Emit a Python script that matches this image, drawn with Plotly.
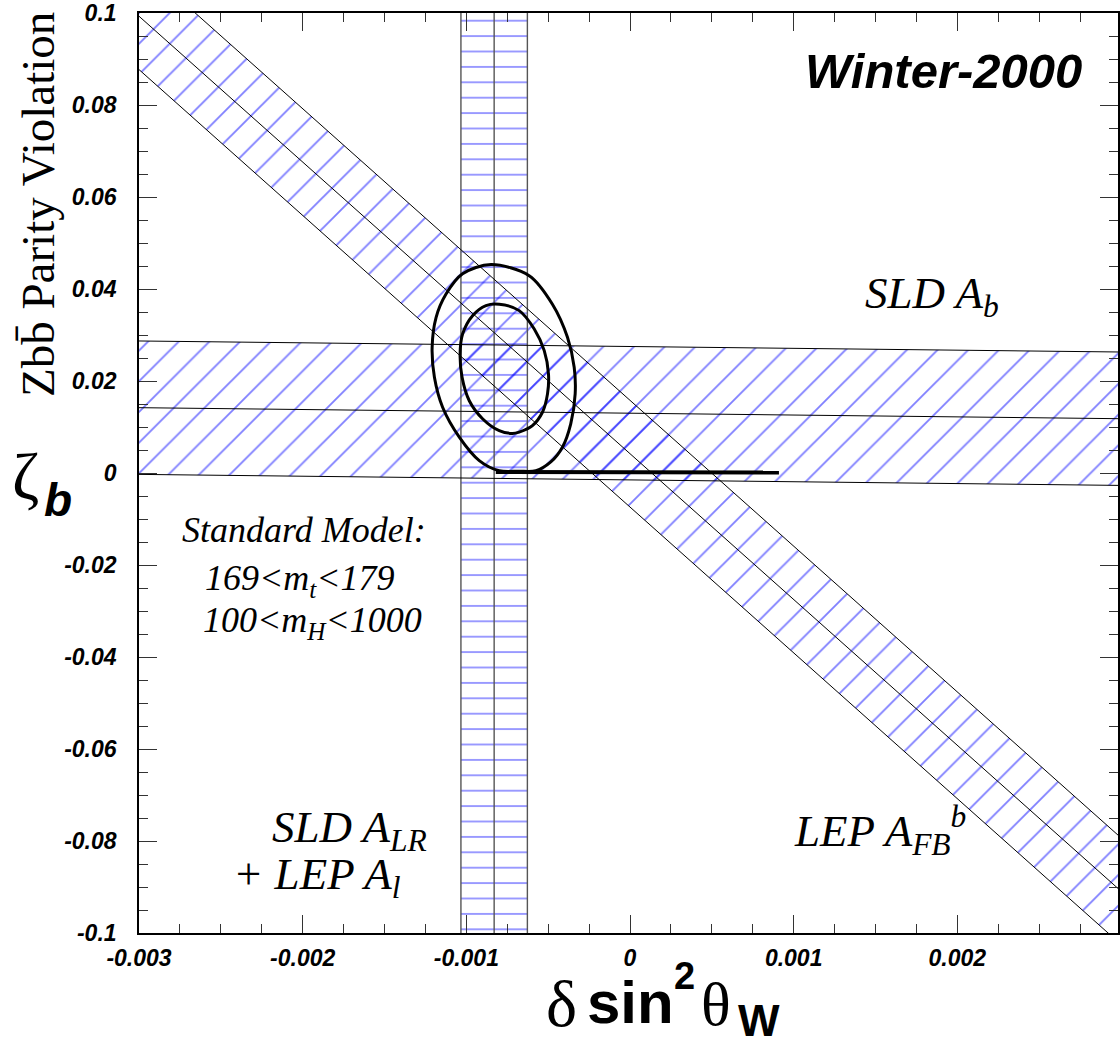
import plotly.graph_objects as go

# ---- axes -------------------------------------------------------------
x_range = [-0.003, 0.0029817]
y_range = [-0.1, 0.1]

x_tick_vals = [-0.003, -0.002, -0.001, 0.0, 0.001, 0.002]
x_tick_text = ["-0.003", "-0.002", "-0.001", "0", "0.001", "0.002"]
y_tick_vals = [-0.1, -0.08, -0.06, -0.04, -0.02, 0.0, 0.02, 0.04, 0.06, 0.08, 0.1]
y_tick_text = ["-0.1", "-0.08", "-0.06", "-0.04", "-0.02", "0",
               "0.02", "0.04", "0.06", "0.08", "0.1"]

# ---- measurement bands ------------------------------------------------
# SLD A_LR + LEP A_l : vertical band in delta sin^2(theta_W)
alr_center = -0.00083
alr_halfwidth = 0.000203

# SLD A_b : nearly horizontal band (centre line at both x ends)
ab_x = [-0.003, 0.003]
ab_center = [0.0142, 0.0118]
ab_halfwidth = 0.0145

# LEP A_FB^b : diagonal band (centre line at both x ends)
afb_x = [-0.003, 0.003]
afb_center = [0.0993, -0.0909]
afb_halfwidth = 0.0116

# ---- combined fit contours ---------------------------------------------
outer_x = [-0.000849, -0.000616, -0.000474, -0.000382, -0.000341, -0.000335,
           -0.000362, -0.000413, -0.000484, -0.000575, -0.000677, -0.000799,
           -0.000921, -0.001043, -0.001145, -0.001195, -0.001209, -0.001185,
           -0.001124, -0.001023, -0.000849]
outer_y = [0.0453, 0.0429, 0.0367, 0.0295, 0.0230, 0.0172,
           0.0107, 0.0056, 0.0024, 0.0005, 0.0004, 0.0005,
           0.0027, 0.0078, 0.0143, 0.0208, 0.0273, 0.0338,
           0.0389, 0.0433, 0.0453]

inner_x = [-0.000799, -0.000677, -0.000585, -0.000524, -0.000498, -0.000504,
           -0.000535, -0.000596, -0.000677, -0.000718, -0.000799, -0.000901,
           -0.000982, -0.001026, -0.001038, -0.001023, -0.000962, -0.000880,
           -0.000799]
inner_y = [0.0367, 0.0353, 0.0313, 0.0266, 0.0215, 0.0172,
           0.0132, 0.0103, 0.0089, 0.0086, 0.0092, 0.0118,
           0.0157, 0.0208, 0.0259, 0.0302, 0.0342, 0.0364,
           0.0367]

# ---- Standard Model prediction -----------------------------------------
sm_x = [-0.00082, 0.00091]
sm_y = [0.0002, 0.0001]

HATCH = "#0000ff"

fig = go.Figure()


def band_polygon(xs, centers, half):
    xs_poly = [xs[0], xs[1], xs[1], xs[0], xs[0]]
    ys_poly = [centers[0] + half, centers[1] + half,
               centers[1] - half, centers[0] - half, centers[0] + half]
    return xs_poly, ys_poly


# vertical band (horizontal hatching)
v_lo = alr_center - alr_halfwidth
v_hi = alr_center + alr_halfwidth
fig.add_trace(go.Scatter(
    x=[v_lo, v_hi, v_hi, v_lo, v_lo], y=[-0.2, -0.2, 0.2, 0.2, -0.2],
    mode="lines", fill="toself", line=dict(width=0), fillcolor="rgba(0,0,0,0)",
    fillpattern=dict(shape="-", size=15.4, solidity=0.1, fgcolor=HATCH),
    hoverinfo="skip"))

# SLD A_b band
px_ab, py_ab = band_polygon(ab_x, ab_center, ab_halfwidth)
fig.add_trace(go.Scatter(
    x=px_ab, y=py_ab, mode="lines", fill="toself", line=dict(width=0),
    fillcolor="rgba(0,0,0,0)",
    fillpattern=dict(shape="/", size=21.7, solidity=0.085, fgcolor=HATCH),
    hoverinfo="skip"))

# LEP A_FB^b band
px_fb, py_fb = band_polygon(afb_x, afb_center, afb_halfwidth)
fig.add_trace(go.Scatter(
    x=px_fb, y=py_fb, mode="lines", fill="toself", line=dict(width=0),
    fillcolor="rgba(0,0,0,0)",
    fillpattern=dict(shape="/", size=21.7, solidity=0.085, fgcolor=HATCH),
    hoverinfo="skip"))

# band edges and centre lines
for xv in [v_lo, alr_center, v_hi]:
    fig.add_trace(go.Scatter(x=[xv, xv], y=[-0.2, 0.2], mode="lines",
                             line=dict(color="#555555", width=1.4),
                             hoverinfo="skip"))
for off in [ab_halfwidth, 0.0, -ab_halfwidth]:
    fig.add_trace(go.Scatter(x=ab_x, y=[c + off for c in ab_center], mode="lines",
                             line=dict(color="black", width=1), hoverinfo="skip"))
for off in [afb_halfwidth, 0.0, -afb_halfwidth]:
    fig.add_trace(go.Scatter(x=afb_x, y=[c + off for c in afb_center], mode="lines",
                             line=dict(color="black", width=1), hoverinfo="skip"))

# fit contours
for cx, cy in [(outer_x, outer_y), (inner_x, inner_y)]:
    fig.add_trace(go.Scatter(x=cx, y=cy, mode="lines",
                             line=dict(color="black", width=3, shape="spline",
                                       smoothing=0.9),
                             hoverinfo="skip"))

# Standard Model line
fig.add_trace(go.Scatter(x=sm_x, y=sm_y, mode="lines",
                         line=dict(color="black", width=4), hoverinfo="skip"))

# ---- layout -------------------------------------------------------------
L, T, R, B = 139, 12, 1120, 933
W_PLOT, H_PLOT = R - L, B - T


def pos(xp, yp):
    return (xp - L) / W_PLOT, (B - yp) / H_PLOT


tick_font = dict(family="Liberation Sans", size=23, color="black",
                 weight="bold", style="italic")
axis_common = dict(showgrid=False, zeroline=False, showline=True,
                   linecolor="black", linewidth=1.6, mirror="allticks",
                   ticks="inside", ticklen=18, tickwidth=1.3, tickcolor="#333333",
                   tickfont=tick_font, tickmode="array",
                   ticklabeloverflow="allow")

fig.update_xaxes(range=x_range, tickvals=x_tick_vals, ticktext=x_tick_text,
                 ticklabelstandoff=4,
                 minor=dict(ticks="inside", ticklen=9, tickwidth=1.2,
                            tickcolor="#333333", tickmode="linear",
                            tick0=0, dtick=0.00025),
                 **axis_common)
fig.update_yaxes(range=y_range, tickvals=y_tick_vals, ticktext=y_tick_text,
                 ticklabelstandoff=16,
                 minor=dict(ticks="inside", ticklen=9, tickwidth=1.2,
                            tickcolor="#333333", tickmode="linear",
                            tick0=0, dtick=0.005),
                 **axis_common)

serif_it = dict(family="Liberation Serif", size=45, color="black", style="italic")
serif_it_s = dict(family="Liberation Serif", size=36, color="black", style="italic")

annotations = []


def text(xp, yp, s, font, xanchor="left", yanchor="middle", angle=0):
    x, y = pos(xp, yp)
    annotations.append(dict(x=x, y=y, xref="paper", yref="paper", text=s,
                            showarrow=False, font=font, xanchor=xanchor,
                            yanchor=yanchor, textangle=angle))


text(945, 70, "Winter-2000",
     dict(family="Liberation Sans", size=49, color="black", weight="bold",
          style="italic"), xanchor="center")
text(864, 295, "SLD A<sub>b</sub>", serif_it)
text(180, 530, "Standard Model:", serif_it_s)
text(203, 580, "169&lt;m<sub>t</sub>&lt;179", serif_it_s)
text(201, 622, "100&lt;m<sub>H</sub>&lt;1000", serif_it_s)
text(270, 830, "SLD A<sub>LR</sub>", serif_it)
text(231, 877, "+ LEP A<sub>l</sub>", serif_it)
text(793, 830, "LEP A<sub>FB</sub><sup>b</sup>", serif_it)

# y-axis title
text(38, 204, "Zbb\u0304 Parity Violation",
     dict(family="Liberation Serif", size=47, color="black"),
     xanchor="center", yanchor="middle", angle=-90)
text(10, 476, "\u03b6", dict(family="Liberation Serif", size=66, color="black"))
text(42, 500, "b", dict(family="Liberation Sans", size=46, color="black",
                        weight="bold", style="italic"))

# x-axis title
text(545, 1004, "\u03b4", dict(family="Liberation Serif", size=66, color="black"))
text(586, 1003, "sin", dict(family="Liberation Sans", size=60, color="black",
                            weight="bold"))
text(673, 976, "2", dict(family="Liberation Sans", size=38, color="black",
                         weight="bold"))
text(700, 1004, "\u03b8", dict(family="Liberation Serif", size=62, color="black"))
text(737, 1021, "W", dict(family="Liberation Sans", size=44, color="black",
                          weight="bold"))

fig.update_layout(
    width=1120, height=1049,
    margin=dict(l=L, r=1120 - R, t=T, b=1049 - B, pad=0),
    paper_bgcolor="white", plot_bgcolor="white",
    showlegend=False,
    annotations=annotations,
)

fig.write_html("out.html")
